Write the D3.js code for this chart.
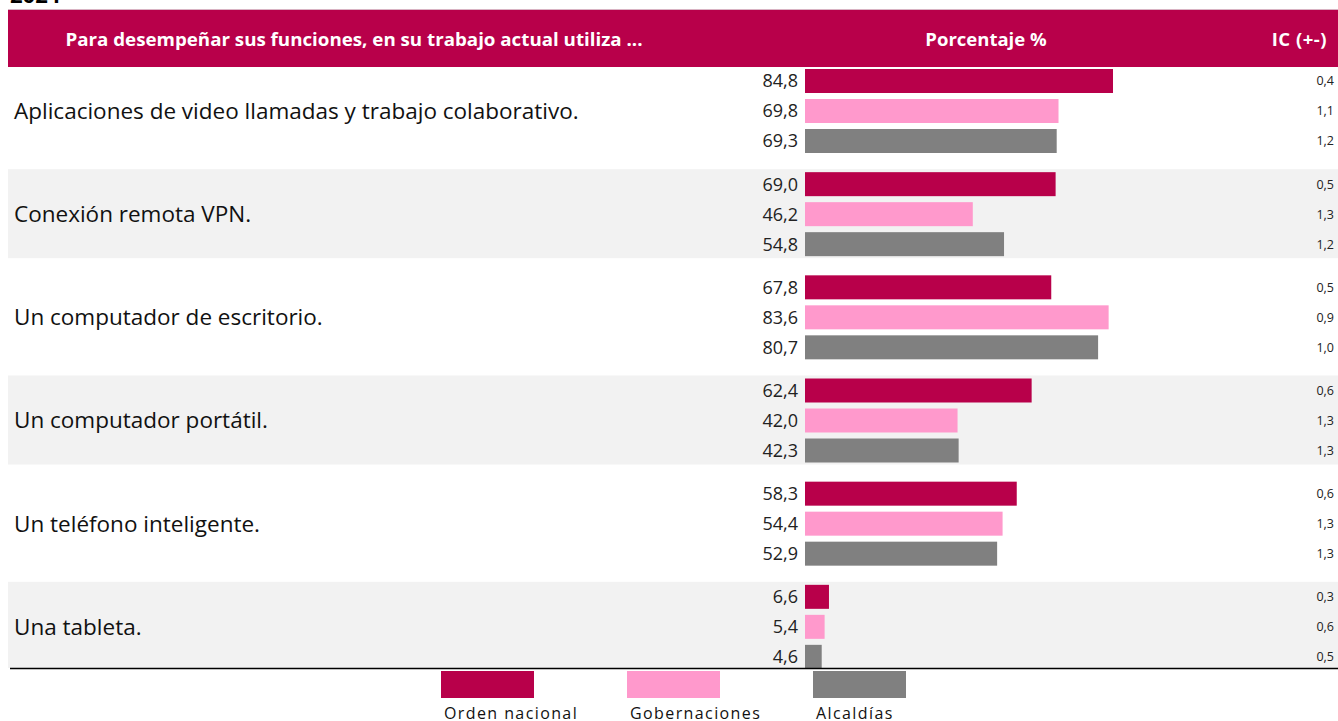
<!DOCTYPE html>
<html lang="es">
<head>
<meta charset="UTF-8">
<title>Uso de herramientas</title>
<style>
  body { margin: 0; background: #fff; }
  svg { display: block; font-family: 'Open Sans', sans-serif; }
</style>
</head>
<body>
<div id="chart"></div>
<script src="https://d3js.org/d3.v7.min.js"></script>
<script>
// data
const categories = [
  'Aplicaciones de video llamadas y trabajo colaborativo.',
  'Conexión remota VPN.',
  'Un computador de escritorio.',
  'Un computador portátil.',
  'Un teléfono inteligente.',
  'Una tableta.'
];
const series = ['Orden nacional', 'Gobernaciones', 'Alcaldías'];
const colors = ['#B8004A', '#FF99CC', '#808080'];
const ordenNacional = [84.8, 69.0, 67.8, 62.4, 58.3, 6.6];
const gobernaciones = [69.8, 46.2, 83.6, 42.0, 54.4, 5.4];
const alcaldias     = [69.3, 54.8, 80.7, 42.3, 52.9, 4.6];
const icOrden = [0.4, 0.5, 0.5, 0.6, 0.6, 0.3];
const icGob   = [1.1, 1.3, 0.9, 1.3, 1.3, 0.6];
const icAlc   = [1.2, 1.2, 1.0, 1.3, 1.3, 0.5];

const values = [ordenNacional, gobernaciones, alcaldias];
const ics = [icOrden, icGob, icAlc];

const width = 1338, height = 721;
const fmt = v => v.toFixed(1).replace('.', ',');

const svg = d3.select('#chart').append('svg')
  .attr('width', width).attr('height', height);

// year text, cut off at the top
svg.append('text').attr('x', 10).attr('y', 3)
  .attr('font-size', 22).attr('font-weight', 700).attr('fill', '#000')
  .text('2024');

// header band
svg.append('line').attr('x1', 8).attr('x2', width).attr('y1', 9.5).attr('y2', 9.5)
  .attr('stroke', '#d9b3c3').attr('stroke-width', 1);
svg.append('rect').attr('x', 8).attr('y', 10).attr('width', width - 8).attr('height', 57)
  .attr('fill', '#B8004A');
const head = svg.append('g').attr('fill', '#fff').attr('font-weight', 700).attr('font-size', 18.5);
head.append('text').attr('x', 354).attr('y', 46).attr('text-anchor', 'middle')
  .attr('textLength', 577).attr('lengthAdjust', 'spacingAndGlyphs')
  .text('Para desempeñar sus funciones, en su trabajo actual utiliza ...');
head.append('text').attr('x', 986).attr('y', 46).attr('text-anchor', 'middle')
  .text('Porcentaje %');
head.append('text').attr('x', 1327).attr('y', 46).attr('text-anchor', 'end')
  .attr('letter-spacing', 0.5)
  .text('IC (+-)');

// scales
const y0 = d3.scaleBand().domain(categories).range([69, 688]);
const y1 = d3.scaleBand().domain(series).range([0, 84]).paddingInner(0.2);
const x = d3.scaleLinear().domain([0, 100]).range([805, 1168.2]);

// alternating grey rows
svg.selectAll('.rowbg').data(categories.filter((c, i) => i % 2 === 1))
  .enter().append('rect')
  .attr('class', 'rowbg')
  .attr('x', 8).attr('width', width - 8)
  .attr('y', d => y0(d) - 3)
  .attr('height', d => Math.min(89, 668 - (y0(d) - 3)))
  .attr('fill', '#F2F2F2');

const groups = svg.selectAll('.grp').data(categories).enter().append('g')
  .attr('class', 'grp')
  .attr('transform', d => `translate(0,${y0(d)})`);

groups.append('text')
  .attr('x', 14)
  .attr('y', y1(series[1]) + y1.bandwidth() / 2)
  .attr('dy', '0.35em')
  .attr('font-size', 22.5).attr('fill', '#111')
  .text(d => d);

series.forEach((s, si) => {
  groups.append('rect')
    .attr('x', x(0))
    .attr('y', y1(s))
    .attr('height', y1.bandwidth())
    .attr('width', (d, i) => x(values[si][i]) - x(0))
    .attr('fill', colors[si]);
  groups.append('text')
    .attr('x', 798)
    .attr('y', y1(s) + y1.bandwidth() / 2)
    .attr('dy', '0.36em')
    .attr('text-anchor', 'end')
    .attr('font-size', 18).attr('fill', '#222')
    .text((d, i) => fmt(values[si][i]));
  groups.append('text')
    .attr('x', 1334)
    .attr('y', y1(s) + y1.bandwidth() / 2)
    .attr('dy', '0.35em')
    .attr('text-anchor', 'end')
    .attr('font-size', 12.5).attr('fill', '#222')
    .text((d, i) => fmt(ics[si][i]));
});

// bottom rule
svg.append('line').attr('x1', 10).attr('x2', width).attr('y1', 668.5).attr('y2', 668.5)
  .attr('stroke', '#000').attr('stroke-width', 1.5);

// legend
const lx = d3.scalePoint().domain(series).range([441, 813]);
const leg = svg.selectAll('.leg').data(series).enter().append('g')
  .attr('class', 'leg')
  .attr('transform', d => `translate(${lx(d)},671)`);
leg.append('rect').attr('width', 93).attr('height', 27)
  .attr('fill', (d, i) => colors[i]);
leg.append('text').attr('x', 3).attr('y', 48)
  .attr('font-size', 16).attr('fill', '#111')
  .attr('letter-spacing', 1.4)
  .text(d => d);
</script>
</body>
</html>
